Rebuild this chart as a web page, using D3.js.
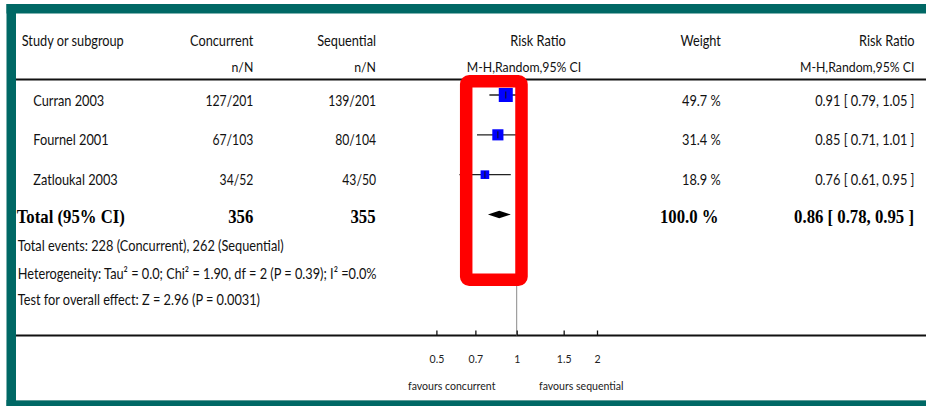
<!DOCTYPE html>
<html>
<head>
<meta charset="utf-8">
<script src="https://cdn.jsdelivr.net/npm/d3@7"></script>
<style>
  html, body { margin: 0; padding: 0; background: #ffffff; }
  svg { display: block; }
</style>
</head>
<body>
<svg id="chart" width="926" height="406"></svg>
<script>
// ---------------- data ----------------
const studies    = ["Curran 2003", "Fournel 2001", "Zatloukal 2003"];
const concurrent = ["127/201", "67/103", "34/52"];
const sequential = ["139/201", "80/104", "43/50"];
const weights    = [49.7, 31.4, 18.9];
const rr         = [0.91, 0.85, 0.76];
const rrLow      = [0.79, 0.71, 0.61];
const rrHigh     = [1.05, 1.01, 0.95];

const totalLabel  = "Total (95% CI)";
const totalN      = [356, 355];
const totalWeight = 100.0;
const totalRR     = [0.86, 0.78, 0.95]; // estimate, low, high

const footnotes = [
  "Total events: 228 (Concurrent), 262 (Sequential)",
  "Heterogeneity: Tau\u00B2 = 0.0; Chi\u00B2 = 1.90, df = 2 (P = 0.39); I\u00B2 =0.0%",
  "Test for overall effect: Z = 2.96 (P = 0.0031)"
];

const headers    = ["Study or subgroup", "Concurrent", "Sequential", "Risk Ratio", "Weight", "Risk Ratio"];
const subheaders = ["n/N", "n/N", "M-H,Random,95% CI", "M-H,Random,95% CI"];
const tickValues = [0.5, 0.7, 1, 1.5, 2];
const favours    = ["favours concurrent", "favours sequential"];

// ---------------- setup ----------------
const svg = d3.select("#chart");
const SANS = "Lato, 'Open Sans', sans-serif";
const SERIF = "'Liberation Serif', 'DejaVu Serif', serif";
const TEAL = "#006865";

function T(sel, x, y, s, o = {}) {
  const sx = o.sx ?? 0.88;
  return sel.append("text")
    .attr("transform", `translate(${x},${y}) scale(${sx},1)`)
    .attr("text-anchor", o.anchor || "start")
    .attr("font-family", o.family || SANS)
    .attr("font-size", o.size || 14.5)
    .attr("font-weight", o.weight || 400)
    .attr("fill", o.fill || "#111")
    .text(s);
}

const x = d3.scaleLog().domain([0.5, 2]).range([436.4, 597]);
const rowY = d3.scaleLinear().domain([0, 3]).range([95, 214.5]);
const size = d3.scaleSqrt().domain([0, 49.7]).range([0, 14]);
const f2 = d3.format(".2f"), f1 = d3.format(".1f");

// ---------------- frame ----------------
svg.append("rect").attr("x", 6.5).attr("y", 4).attr("width", 926).attr("height", 9.5).attr("fill", TEAL);
svg.append("rect").attr("x", 6.5).attr("y", 4).attr("width", 9.5).attr("height", 402).attr("fill", TEAL);
svg.append("rect").attr("x", 6.5).attr("y", 400).attr("width", 926).attr("height", 6).attr("fill", TEAL);
svg.append("line").attr("x1", 16).attr("x2", 926).attr("y1", 400.5).attr("y2", 400.5)
  .attr("stroke", "#5f9c98").attr("stroke-width", 1);

// header & axis rules
svg.append("line").attr("x1", 16).attr("x2", 926).attr("y1", 79.5).attr("y2", 79.5)
  .attr("stroke", "#111").attr("stroke-width", 2);
const axisY = 335.5;
svg.append("line").attr("x1", 16).attr("x2", 926).attr("y1", axisY).attr("y2", axisY)
  .attr("stroke", "#111").attr("stroke-width", 2);

// line of no effect
svg.append("line").attr("x1", x(1)).attr("x2", x(1)).attr("y1", 80.5).attr("y2", axisY)
  .attr("stroke", "#8a8a8a").attr("stroke-width", 1);

// axis
const axis = d3.axisBottom(x).tickValues(tickValues).tickFormat(d => String(d))
  .tickSize(-5).tickPadding(19);
const ag = svg.append("g").attr("transform", `translate(0,${axisY})`).call(axis);
ag.select(".domain").remove();
ag.selectAll(".tick line").attr("stroke", "#111").attr("stroke-width", 1.3);
ag.selectAll(".tick text").attr("font-family", SANS).attr("font-size", 12)
  .attr("fill", "#222").attr("transform", "scale(0.88,1)");

T(svg, 451.7, 389.5, favours[0], { anchor: "middle", size: 12, fill: "#222" });
T(svg, 581.3, 389.5, favours[1], { anchor: "middle", size: 12, fill: "#222" });

// ---------------- headers ----------------
T(svg, 21.7, 45.5, headers[0]);
T(svg, 253.3, 45.5, headers[1], { anchor: "end" });
T(svg, 376, 45.5, headers[2], { anchor: "end" });
T(svg, 538, 45.5, headers[3], { anchor: "middle" });
T(svg, 700.7, 45.5, headers[4], { anchor: "middle" });
T(svg, 914.5, 45.5, headers[5], { anchor: "end" });

T(svg, 253.3, 71.5, subheaders[0], { anchor: "end", size: 14 });
T(svg, 376, 71.5, subheaders[1], { anchor: "end", size: 14 });
T(svg, 524, 71.5, subheaders[2], { anchor: "middle", size: 14 });
T(svg, 914.5, 71.5, subheaders[3], { anchor: "end", size: 14 });

// ---------------- study rows ----------------
studies.forEach((s, i) => {
  const y = rowY(i), by = y + 10.5;
  T(svg, 33.3, by, s);
  T(svg, 253.3, by, concurrent[i], { anchor: "end", sx: 0.84 });
  T(svg, 376, by, sequential[i], { anchor: "end", sx: 0.84 });
  T(svg, 720.7, by, f1(weights[i]) + " %", { anchor: "end" });
  T(svg, 914.5, by, `${f2(rr[i])} [ ${f2(rrLow[i])}, ${f2(rrHigh[i])} ]`, { anchor: "end" });
});

const marks = svg.append("g");
marks.selectAll("line.ci").data(studies).join("line").attr("class", "ci")
  .attr("x1", (d, i) => x(rrLow[i])).attr("x2", (d, i) => x(rrHigh[i]))
  .attr("y1", (d, i) => rowY(i)).attr("y2", (d, i) => rowY(i))
  .attr("stroke", "#222").attr("stroke-width", 1.3);
marks.selectAll("rect.pt").data(studies).join("rect").attr("class", "pt")
  .attr("x", (d, i) => x(rr[i]) - size(weights[i]) / 2)
  .attr("y", (d, i) => rowY(i) - size(weights[i]) / 2)
  .attr("width", (d, i) => size(weights[i]))
  .attr("height", (d, i) => size(weights[i]))
  .attr("fill", "#0000ff");
marks.selectAll("line.tk").data(studies).join("line").attr("class", "tk")
  .attr("x1", (d, i) => x(rr[i])).attr("x2", (d, i) => x(rr[i]))
  .attr("y1", (d, i) => rowY(i) - 3.5).attr("y2", (d, i) => rowY(i) + 3.5)
  .attr("stroke", "#111").attr("stroke-width", 1);

// total diamond
const ty = rowY(3);
marks.append("path")
  .attr("d", `M${x(totalRR[1])},${ty} L${x(totalRR[0])},${ty - 3.8} L${x(totalRR[2])},${ty} L${x(totalRR[0])},${ty + 3.8} Z`)
  .attr("fill", "#000");

// total row text
const tb = 223;
const bold = { family: SERIF, weight: 700, size: 18, sx: 0.93, fill: "#000" };
T(svg, 16.7, tb, totalLabel, bold);
T(svg, 253.3, tb, String(totalN[0]), { ...bold, anchor: "end" });
T(svg, 375.5, tb, String(totalN[1]), { ...bold, anchor: "end" });
T(svg, 718.5, tb, f1(totalWeight) + " %", { ...bold, anchor: "end" });
T(svg, 914, tb, `${f2(totalRR[0])} [ ${f2(totalRR[1])}, ${f2(totalRR[2])} ]`, { ...bold, anchor: "end" });

// footnotes
[250.7, 279.3, 305].forEach((by, i) => T(svg, 17.7, by, footnotes[i]));

// red highlight box
svg.append("rect").attr("x", 466.2).attr("y", 81.2).attr("width", 55.3).attr("height", 198.5)
  .attr("rx", 3).attr("fill", "none").attr("stroke", "#ff0000").attr("stroke-width", 12.5);
</script>
</body>
</html>
